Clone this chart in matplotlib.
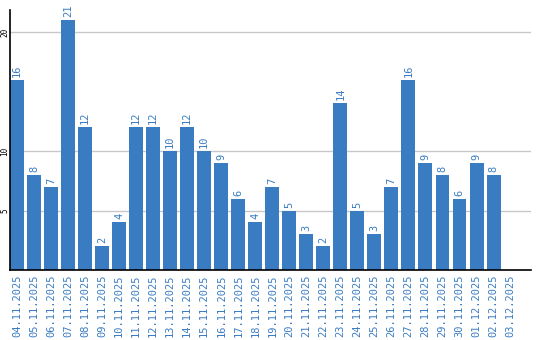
import matplotlib

matplotlib.use("Agg")
import matplotlib.pyplot as plt
import numpy as np

dates = [
    "04.11.2025", "05.11.2025", "06.11.2025", "07.11.2025", "08.11.2025",
    "09.11.2025", "10.11.2025", "11.11.2025", "12.11.2025", "13.11.2025",
    "14.11.2025", "15.11.2025", "16.11.2025", "17.11.2025", "18.11.2025",
    "19.11.2025", "20.11.2025", "21.11.2025", "22.11.2025", "23.11.2025",
    "24.11.2025", "25.11.2025", "26.11.2025", "27.11.2025", "28.11.2025",
    "29.11.2025", "30.11.2025", "01.12.2025", "02.12.2025", "03.12.2025",
]
counts = [16, 8, 7, 21, 12, 2, 4, 12, 12, 10, 12, 10, 9, 6, 4, 7, 5, 3, 2, 14,
          5, 3, 7, 16, 9, 8, 6, 9, 8, None]
y_ticks = [5, 10, 20]

BLUE = "#3a7cc2"
MONO = "DejaVu Sans Mono"

figure = plt.figure(figsize=(5.4, 3.4), dpi=100)
axis = figure.add_axes([10 / 540, 70 / 340, 521 / 540, 260 / 340])

x = np.arange(len(dates))
values = np.array([np.nan if v is None else v for v in counts], dtype=float)
axis.bar(x, np.nan_to_num(values), width=0.82, color=BLUE, zorder=2)
for xi, v in zip(x, values):
    if np.isnan(v):
        continue
    axis.text(xi, v + 0.25, f"{int(v)}", rotation=90, ha="center", va="bottom",
              color=BLUE, fontsize=7.5, family=MONO)

axis.set_xlim(-0.41, 30.2)
axis.set_ylim(0, 21.85)
axis.set_yticks(y_ticks)
axis.set_yticklabels([str(t) for t in y_ticks], rotation=90, va="center",
                     fontsize=5.5, family=MONO)
axis.set_xticks(x)
axis.set_xticklabels(dates, rotation=90, color=BLUE, fontsize=7.5, family=MONO)
axis.tick_params(axis="x", length=0, pad=3)
axis.tick_params(axis="y", length=0, pad=0.5)
axis.grid(axis="y", color="#c8c8c8", linewidth=1.0, zorder=0)
axis.set_axisbelow(True)
for side in ("top", "right"):
    axis.spines[side].set_visible(False)
for side in ("left", "bottom"):
    axis.spines[side].set_color("black")
    axis.spines[side].set_linewidth(1.2)

figure.savefig("out.png", dpi=100)
